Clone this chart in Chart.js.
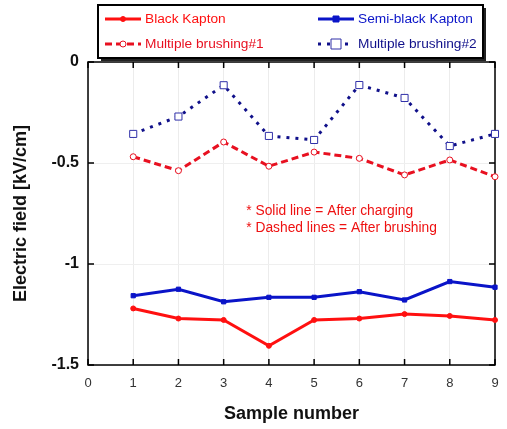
<!DOCTYPE html>
<html>
<head>
<meta charset="utf-8">
<script src="https://cdn.jsdelivr.net/npm/chart.js@4"></script>
<style>
  html, body { margin: 0; padding: 0; background: #fff; }
  #wrap { width: 507px; height: 429px; }
</style>
</head>
<body>
<div id="wrap"><canvas id="myChart" width="507" height="429"></canvas></div>
<script>
var samples = [1, 2, 3, 4, 5, 6, 7, 8, 9];
var blackKapton = [-1.22, -1.27, -1.277, -1.405, -1.277, -1.27, -1.248, -1.257, -1.277];
var semiBlackKapton = [-1.157, -1.125, -1.187, -1.165, -1.165, -1.137, -1.178, -1.087, -1.115];
var brushing1 = [-0.469, -0.538, -0.396, -0.516, -0.446, -0.477, -0.559, -0.485, -0.568];
var brushing2 = [-0.356, -0.27, -0.115, -0.366, -0.386, -0.114, -0.178, -0.416, -0.356];
var xTicks = [0, 1, 2, 3, 4, 5, 6, 7, 8, 9];
var yTicks = [0, -0.5, -1, -1.5];
var notes = ['* Solid line = After charging', '* Dashed lines = After brushing'];

function pts(vals) {
  return samples.map(function (s, i) { return { x: s, y: vals[i] }; });
}

// legend box, frame, inward ticks and the note text
var extras = {
  id: 'extras',
  beforeDatasetsDraw: function (chart) {
    var c = chart.ctx, a = chart.chartArea;
    var xs = chart.scales.x, ys = chart.scales.y;
    c.save();
    // frame
    c.strokeStyle = '#000';
    c.lineWidth = 1.5;
    c.beginPath();
    c.moveTo(a.left, a.top); c.lineTo(a.right, a.top);
    c.lineTo(a.right, a.bottom); c.lineTo(a.left, a.bottom); c.closePath();
    c.stroke();
    c.beginPath();
    xTicks.forEach(function (t) {
      var px = xs.getPixelForValue(t);
      c.moveTo(px, a.bottom); c.lineTo(px, a.bottom - 6);
      c.moveTo(px, a.top); c.lineTo(px, a.top + 6);
    });
    yTicks.forEach(function (t) {
      var py = ys.getPixelForValue(t);
      c.moveTo(a.left, py); c.lineTo(a.left + 6, py);
      c.moveTo(a.right, py); c.lineTo(a.right - 6, py);
    });
    c.stroke();

    // notes
    c.fillStyle = '#ee1111';
    c.font = '13.8px "Liberation Sans", Arial, sans-serif';
    c.textBaseline = 'middle';
    var nx = xs.getPixelForValue(3.5), ny = ys.getPixelForValue(-0.74);
    c.fillText(notes[0], nx, ny);
    c.fillText(notes[1], nx, ny + 17);
    c.restore();
  },
  afterDraw: function (chart) {
    var c = chart.ctx;
    c.save();
    // legend
    var bx = 98, by = 5, bw = 385, bh = 53;
    c.fillStyle = '#222';
    c.fillRect(bx + 3, by + 3, bw, bh);
    c.fillStyle = '#fff';
    c.fillRect(bx, by, bw, bh);
    c.strokeStyle = '#000';
    c.lineWidth = 2;
    c.strokeRect(bx, by, bw, bh);
    var spots = [[105, 19], [318, 19], [105, 44], [318, 44]];
    chart.data.datasets.forEach(function (ds, k) {
      var sx = spots[k][0], sy = spots[k][1];
      c.strokeStyle = ds.borderColor;
      c.lineWidth = ds.borderWidth;
      c.setLineDash(ds.borderDash || []);
      c.beginPath(); c.moveTo(sx, sy); c.lineTo(sx + 36, sy); c.stroke();
      c.setLineDash([]);
      c.lineWidth = 1;
      c.fillStyle = ds.pointBackgroundColor;
      c.strokeStyle = ds.pointBorderColor;
      var r = ds.pointRadius;
      c.beginPath();
      if (ds.pointStyle === 'rect') {
        c.rect(sx + 18 - r, sy - r, 2 * r, 2 * r);
      } else {
        c.arc(sx + 18, sy, r, 0, Math.PI * 2);
      }
      c.fill(); c.stroke();
      c.fillStyle = ds.borderColor;
      c.font = '13.7px "Liberation Sans", Arial, sans-serif';
      c.textBaseline = 'middle';
      c.fillText(ds.label, sx + 40, sy);
    });
    c.restore();
  }
};

var ctx = document.getElementById('myChart');
var myChart = new Chart(ctx, {
  type: 'line',
  data: {
    datasets: [{
      label: 'Black Kapton',
      data: pts(blackKapton),
      borderColor: '#ff1010',
      pointBorderColor: '#ff1010',
      pointBackgroundColor: '#ff1010',
      pointStyle: 'circle',
      pointRadius: 2.5,
      borderWidth: 3
    }, {
      label: 'Semi-black Kapton',
      data: pts(semiBlackKapton),
      borderColor: '#0a14c8',
      pointBorderColor: '#0a14c8',
      pointBackgroundColor: '#0a14c8',
      pointStyle: 'rect',
      pointRadius: 3,
      borderWidth: 3
    }, {
      label: 'Multiple brushing#1',
      data: pts(brushing1),
      borderColor: '#e81020',
      pointBorderColor: '#e81020',
      pointBackgroundColor: '#fff',
      pointStyle: 'circle',
      pointRadius: 3,
      borderWidth: 3,
      borderDash: [7, 4]
    }, {
      label: 'Multiple brushing#2',
      data: pts(brushing2),
      borderColor: '#10108a',
      pointBorderColor: '#3030a8',
      pointBackgroundColor: '#fff',
      pointStyle: 'rect',
      pointRadius: 5,
      borderWidth: 3,
      borderDash: [3, 6]
    }]
  },
  options: {
    responsive: false,
    animation: false,
    layout: { padding: { top: 62, right: 12, left: 6, bottom: 0 } },
    plugins: { legend: { display: false }, tooltip: { enabled: false } },
    elements: { line: { tension: 0 }, point: { borderWidth: 1 } },
    datasets: { line: { pointBorderWidth: 1, clip: false } },
    scales: {
      x: {
        type: 'linear',
        min: 0, max: 9,
        afterBuildTicks: function (s) { s.ticks = xTicks.map(function (v) { return { value: v }; }); },
        afterFit: function (s) { s.height = 64; s.paddingLeft = 0; s.paddingRight = 0; },
        grid: { color: '#ececec', drawTicks: false },
        border: { display: false },
        ticks: { color: '#333', padding: 11, font: { family: '"Liberation Sans", Arial', size: 13 } },
        title: { display: true, text: 'Sample number', color: '#111', padding: { top: 10 },
          font: { family: '"Liberation Sans", Arial', size: 18, weight: 'bold' } }
      },
      y: {
        min: -1.5, max: 0,
        afterBuildTicks: function (s) { s.ticks = yTicks.map(function (v) { return { value: v }; }); },
        afterFit: function (s) { s.width = 82; },
        grid: { color: '#efefef', drawTicks: false },
        border: { display: false },
        ticks: { color: '#111', padding: 9, font: { family: '"Liberation Sans", Arial', size: 16, weight: 'bold' },
          callback: function (v) { return String(v); } },
        title: { display: true, text: 'Electric field [kV/cm]', color: '#111', padding: { bottom: 0 },
          font: { family: '"Liberation Sans", Arial', size: 18, weight: 'bold' } }
      }
    }
  },
  plugins: [extras]
});
</script>
</body>
</html>
